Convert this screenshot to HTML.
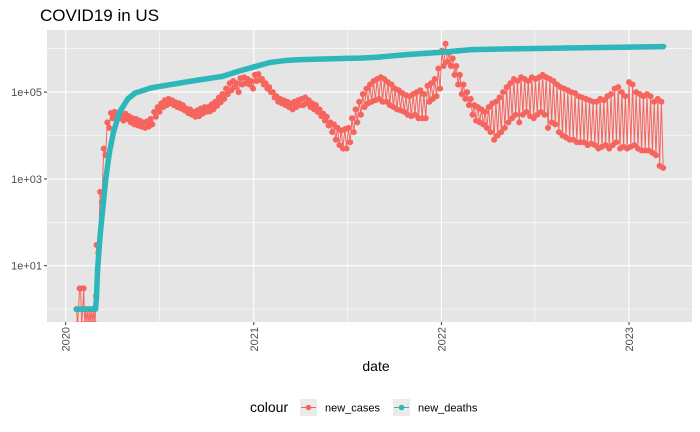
<!DOCTYPE html>
<html><head><meta charset="utf-8"><style>
body{margin:0;background:#fff;}
svg{display:block;font-family:"Liberation Sans",Arial,sans-serif;}
</style></head><body>
<svg id="chart" width="700" height="432" viewBox="0 0 700 432">
<text x="40" y="21" font-size="17" fill="#000">COVID19 in US</text>
<rect x="47" y="30" width="645" height="292" fill="#e5e5e5"/>
<g id="grid"></g>
<defs><clipPath id="clip"><rect x="47" y="30" width="645" height="292"/></clipPath></defs>
<g id="marks" clip-path="url(#clip)"></g>
<g id="axes"></g>
<text x="376" y="371" font-size="14" text-anchor="middle">date</text>
<g>
<text x="250" y="412" font-size="14">colour</text>
<g>
<rect x="300" y="399" width="17" height="17" fill="#ebebeb"/>
<line x1="301" y1="407.5" x2="316" y2="407.5" stroke="#F6645E" stroke-width="1"/>
<circle cx="308.5" cy="407.5" r="2.8" fill="#F6645E"/>
<text x="325" y="411.5" font-size="11">new_cases</text></g>
<g>
<rect x="393" y="399" width="17" height="17" fill="#ebebeb"/>
<line x1="394" y1="407.5" x2="409" y2="407.5" stroke="#2DB7BA" stroke-width="1"/>
<circle cx="401.5" cy="407.5" r="2.8" fill="#2DB7BA"/>
<text x="418" y="411.5" font-size="11">new_deaths</text></g>
</g>
</svg>
<script>
const yTickValues=[10,1000,100000];
const yTickLabels=["1e+01","1e+03","1e+05"];
const xTickYears=[2020,2021,2022,2023];
const earlyCaseStart="2020-01-22";
const earlyCases=[1,0,1,3,3,0,1,3,0,1,0,1,0,1,0,1,0,1,0,2];
const weeklyStart="2020-03-01";
const casesHigh=[30,500,5000,20000,33000, 35000,33000,30000,32000, 28000,25000,24000,22000,20000, 21000,24000,35000,45000, 55000,65000,70000,65000, 58000,55000,50000,42000,40000, 35000,38000,42000,45000, 45000,52000,60000,75000, 90000,120000,160000,180000,160000, 210000,220000,200000,180000,
250000,260000,200000,160000,130000, 100000,80000,70000,65000, 60000,55000,60000,65000, 70000,75000,65000,55000, 50000,40000,32000,27000,20000, 18000,15000,13000,14000, 15000,25000,40000,60000, 90000,120000,150000,180000,200000, 220000,200000,170000,150000, 120000,110000,95000,85000,80000, 90000,100000,110000,90000, 140000,160000,200000,350000,
900000,1300000,800000,600000,400000, 250000,150000,100000,70000, 50000,45000,40000,35000, 45000,55000,60000,75000, 100000,130000,160000,200000,180000, 220000,200000,180000,220000, 200000,220000,250000,220000,200000, 180000,150000,130000,120000, 110000,100000,95000,80000, 75000,70000,65000,60000,60000, 70000,65000,80000,90000, 120000,130000,100000,80000,
170000,150000,100000,90000,80000, 90000,80000,60000,70000, 60000];
const casesLow=[20,300,3500,15000,25000, 27000,25000,22000,24000, 20000,18000,17000,16000,15000, 16000,18000,27000,35000, 45000,50000,55000,50000, 45000,42000,38000,33000,30000, 27000,28000,32000,35000, 36000,40000,48000,58000, 70000,90000,110000,130000,100000, 150000,160000,150000,120000,
180000,190000,150000,120000,100000, 75000,60000,55000,50000, 45000,40000,45000,50000, 50000,55000,45000,40000, 35000,28000,22000,17000,12000, 8000,6000,5000,5000, 7000,12000,20000,30000, 45000,55000,60000,65000,70000, 60000,60000,50000,45000, 40000,38000,35000,30000,28000, 30000,25000,25000,25000, 60000,70000,80000,120000,
400000,500000,400000,250000,150000, 90000,70000,50000,30000, 22000,20000,18000,15000, 12000,8000,10000,12000, 15000,20000,25000,30000,20000, 30000,35000,28000,25000, 30000,35000,30000,15000,20000, 18000,12000,10000,9000, 8000,8000,7000,7000, 7000,6000,6500,6000,5000, 5500,6000,5000,6000, 7000,5000,5500,5000,
5500,6000,5000,4500,4500, 4500,4000,3500,2000, 1800];
const deathDates=["2020-01-22","2020-02-28","2020-03-01","2020-03-03","2020-03-08","2020-03-13","2020-03-19","2020-03-26","2020-04-03","2020-04-15","2020-05-01","2020-05-15","2020-06-15","2020-08-01","2020-09-15","2020-11-01","2020-12-01","2021-01-01","2021-02-01","2021-03-01","2021-04-01","2021-07-01","2021-08-01","2021-09-01","2021-10-01","2021-11-01","2021-12-01","2022-01-01","2022-02-01","2022-03-01","2022-06-01","2022-09-01","2023-01-01","2023-03-09"];
const deathValues=[1,1,2,8,50,200,1000,4000,12000,35000,70000,95000,125000,155000,190000,230000,300000,380000,480000,530000,560000,600000,610000,640000,690000,740000,780000,830000,890000,950000,1000000,1040000,1090000,1120000];

const NS="http://www.w3.org/2000/svg";
const DAY=86400000, T0=Date.UTC(2020,0,1);
function days(s){const p=s.split("-");return (Date.UTC(+p[0],p[1]-1,+p[2])-T0)/DAY;}
function X(d){return 65.7+d*(629-65.7)/1096;}
function Y(v){return 265.7-(Math.log10(Math.max(v,0.45))-1)*43.4;}
function mk(tag,attrs,parent){const e=document.createElementNS(NS,tag);for(const k in attrs)e.setAttribute(k,attrs[k]);parent.appendChild(e);return e;}
const grid=document.getElementById("grid"),marks=document.getElementById("marks"),axes=document.getElementById("axes");
for(let e=0;e<=6;e++){const y=Y(Math.pow(10,e));const major=e%2===1;
 const l=mk("line",{x1:47,x2:692,y1:y,y2:y,stroke:"#fff","stroke-width":major?1.1:0.55},grid);
 
 }
for(let i=0;i<xTickYears.length;i++){const d=days(xTickYears[i]+"-01-01");const x=X(d);
 const l=mk("line",{x1:x,x2:x,y1:30,y2:322,stroke:"#fff","stroke-width":1.1},grid);
 
 
 const dm=days(xTickYears[i]+"-07-02");const xm=X(dm);
 if(xm<692&&xm>47){const m=mk("line",{x1:xm,x2:xm,y1:30,y2:322,stroke:"#fff","stroke-width":0.55},grid);
 
 }
 const t=mk("line",{x1:x,x2:x,y1:322,y2:325,stroke:"#333","stroke-width":1},axes);
 
 
 const tx=mk("text",{x:0,y:0,transform:`translate(${x+4},327) rotate(-90)`,"text-anchor":"end","font-size":11,fill:"#4d4d4d"},axes);
 tx.textContent=xTickYears[i];
 
 }
for(let i=0;i<yTickValues.length;i++){const y=Y(yTickValues[i]);
 const t=mk("line",{x1:44,x2:47,y1:y,y2:y,stroke:"#333","stroke-width":1},axes);
 
 
 const tx=mk("text",{x:42,y:y+4,"text-anchor":"end","font-size":11,fill:"#4d4d4d"},axes);
 tx.textContent=yTickLabels[i];
 
 }
const cpts=[];
const e0=days(earlyCaseStart);
for(let i=0;i<earlyCases.length;i++)cpts.push([X(e0+i*2),Y(earlyCases[i])]);
const w0=days(weeklyStart);
for(let i=0;i<casesHigh.length;i++){cpts.push([X(w0+i*7),Y(casesHigh[i])]);cpts.push([X(w0+i*7+3.5),Y(casesLow[i])]);}
const cl=mk("polyline",{points:cpts.map(p=>p.join(",")).join(" "),fill:"none",stroke:"#F6645E","stroke-width":1},marks);


const cg=mk("g",{fill:"#F6645E"},marks);


for(const p of cpts){const c=mk("circle",{cx:p[0],cy:p[1],r:3},cg);
 
 }
const dpts=deathDates.map((d,i)=>[X(days(d)),Y(deathValues[i])]);
const dl=mk("polyline",{points:dpts.map(p=>p.join(",")).join(" "),fill:"none",stroke:"#2DB7BA","stroke-width":5.5,"stroke-linecap":"round","stroke-linejoin":"round"},marks);


for(const p of dpts){const c=mk("circle",{cx:p[0],cy:p[1],r:2.8,fill:"#2DB7BA"},marks);
 
 }
</script>
</body></html>
